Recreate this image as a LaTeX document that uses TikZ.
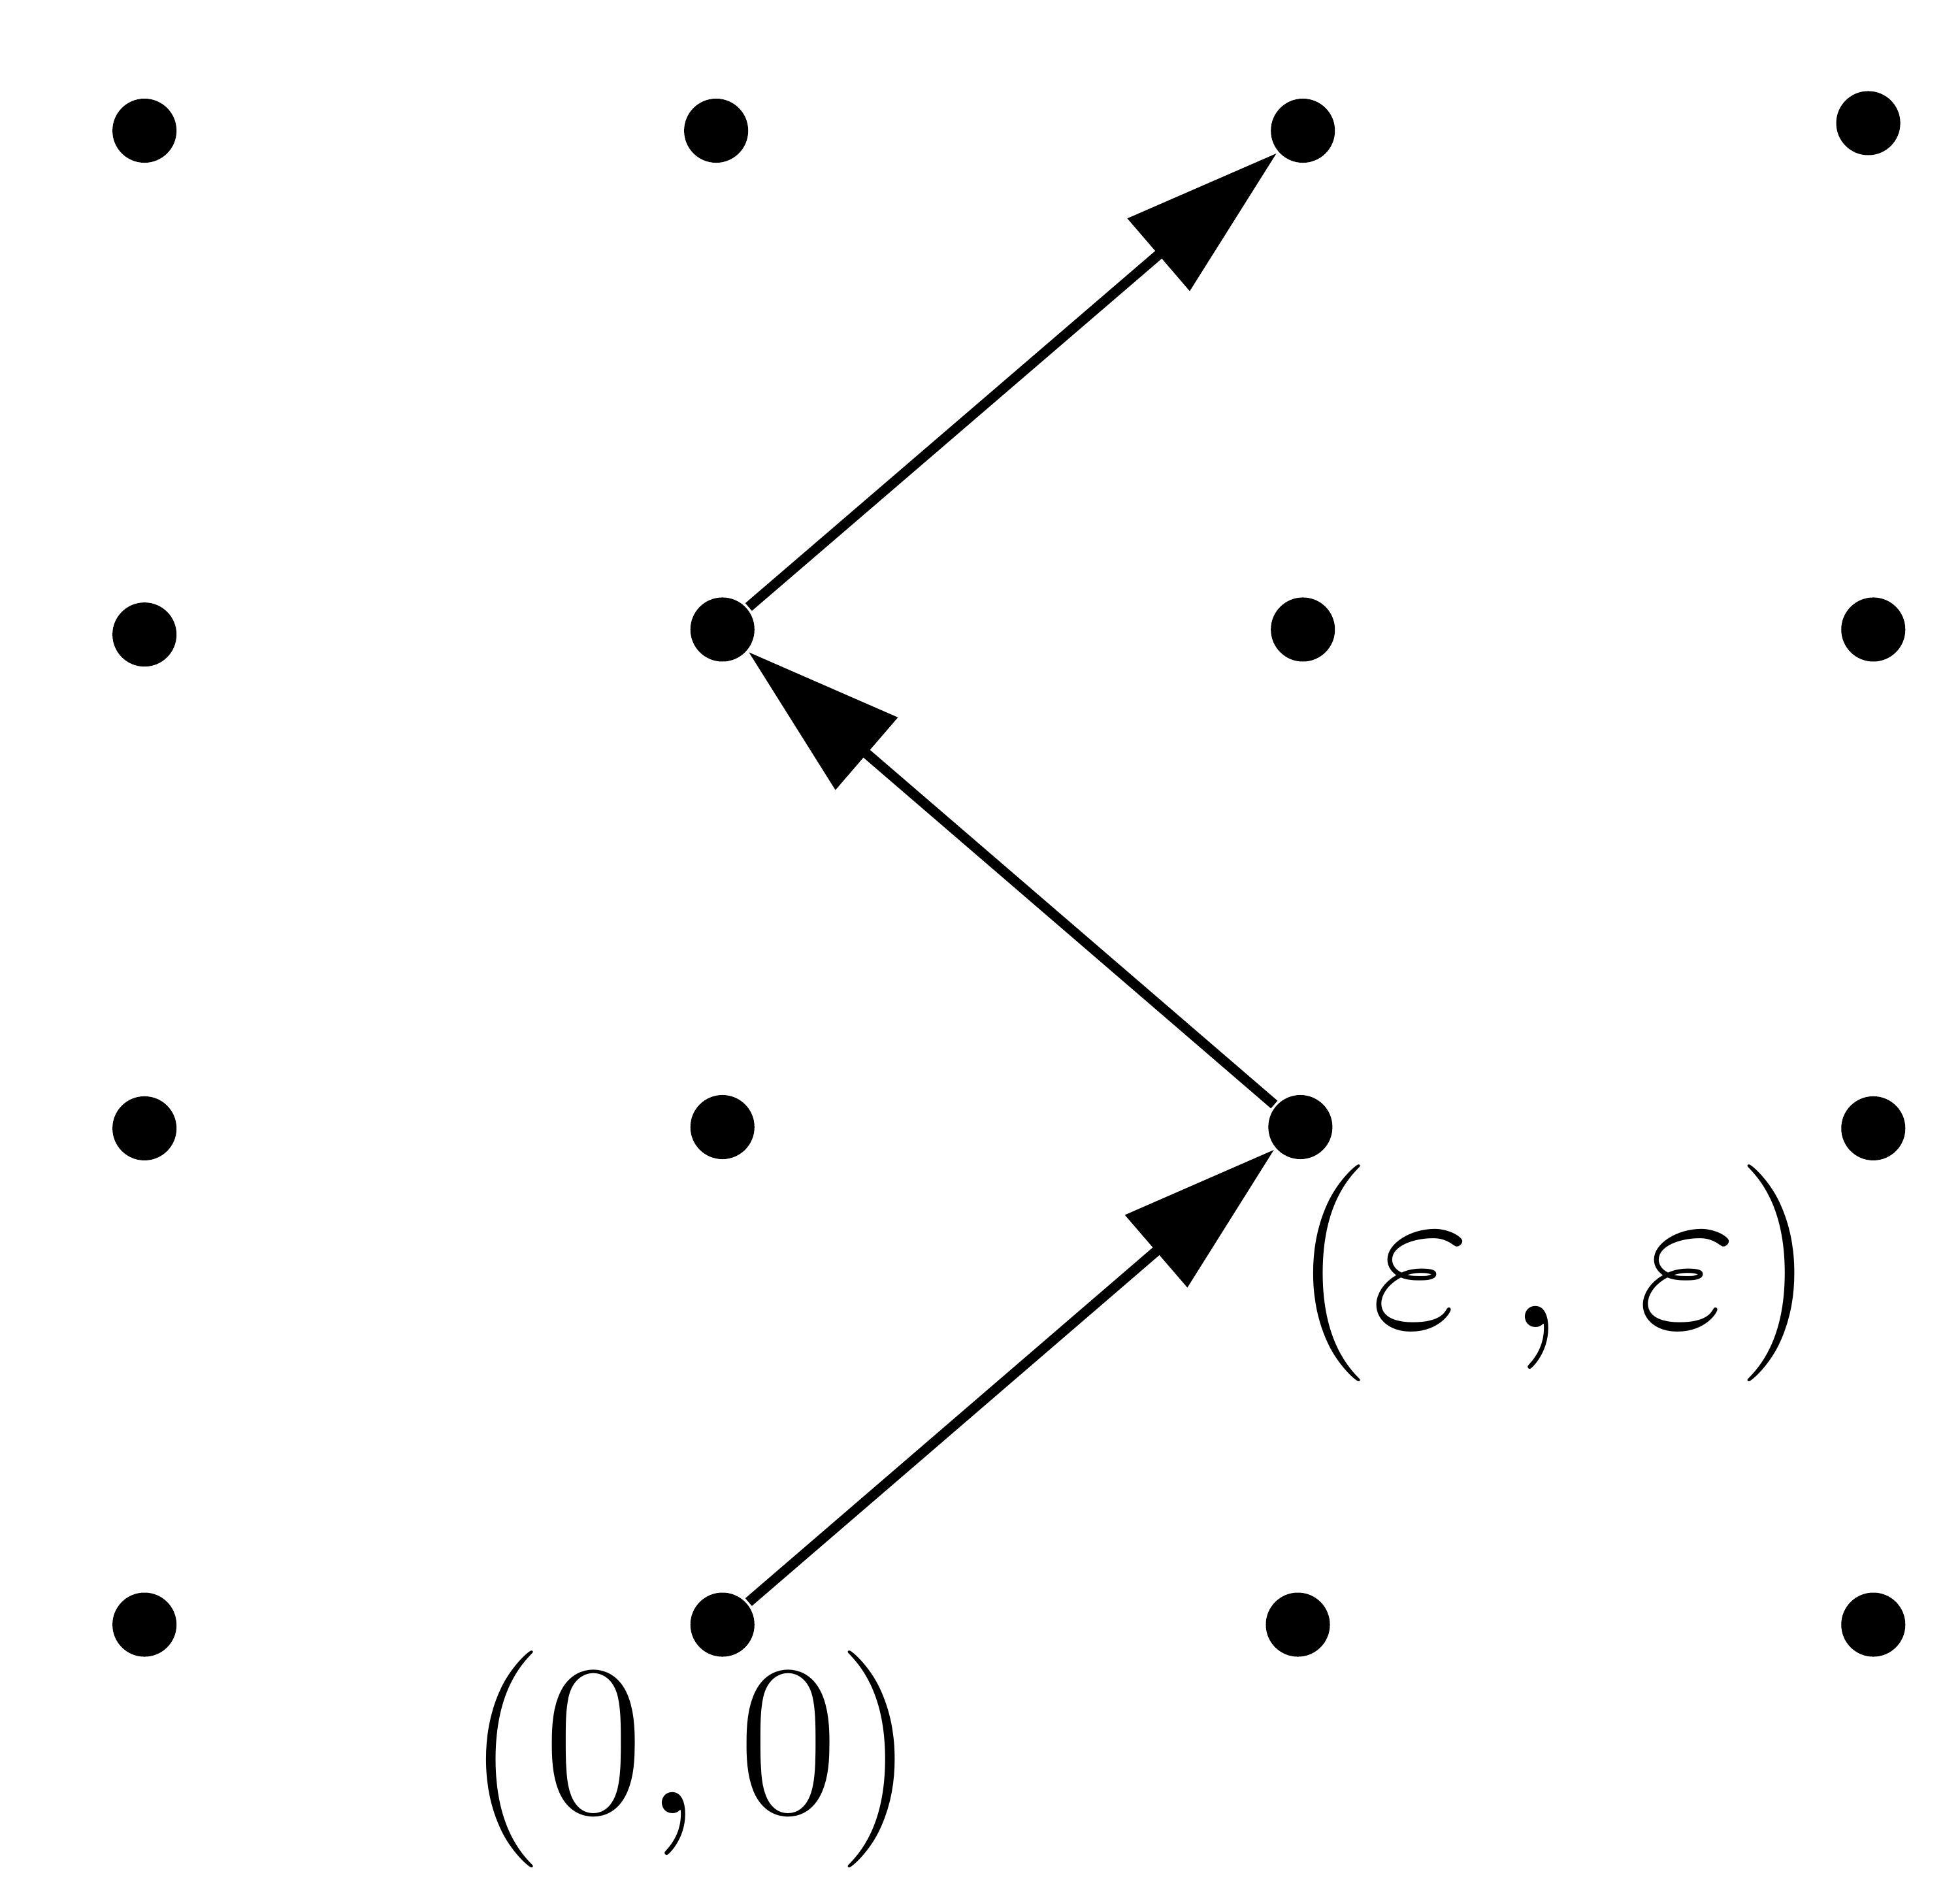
\documentclass[tikz,border=0pt]{standalone}
\usetikzlibrary{arrows.meta}
\begin{document}
\begin{tikzpicture}[x=0.1pt,y=-0.1pt,
  dot/.style={circle,fill=black,inner sep=0pt,minimum size=5.1pt},
  arr/.style={line width=0.8pt,-{Triangle[length=12.4pt,width=7.4pt]}},
  lab/.style={inner sep=0pt,font=\fontsize{19}{23}\selectfont}]
\useasboundingbox (0,0) rectangle (1560,1500);
\node[dot] (a1) at (115,104) {};
\node[dot] (a2) at (570,104) {};
\node[dot] (a3) at (1037,104) {};
\node[dot] (a4) at (1487,98) {};
\node[dot] (b1) at (115,505) {};
\node[dot] (b2) at (575,501) {};
\node[dot] (b3) at (1037,501) {};
\node[dot] (b4) at (1491,501) {};
\node[dot] (c1) at (115,898) {};
\node[dot] (c2) at (575,897) {};
\node[dot] (c3) at (1035,897) {};
\node[dot] (c4) at (1491,898) {};
\node[dot] (d1) at (115,1293) {};
\node[dot] (d2) at (575,1293) {};
\node[dot] (d3) at (1033,1293) {};
\node[dot] (d4) at (1491,1293) {};
\draw[arr] (d2) -- (c3);
\draw[arr] (c3) -- (b2);
\draw[arr] (b2) -- (a3);
\node[lab] (l0) at (550,1400) {$(0,0)$};
\node[lab] (l1) at (1237,1013) {$(\varepsilon\,,\,\varepsilon)$};
\end{tikzpicture}
\end{document}
